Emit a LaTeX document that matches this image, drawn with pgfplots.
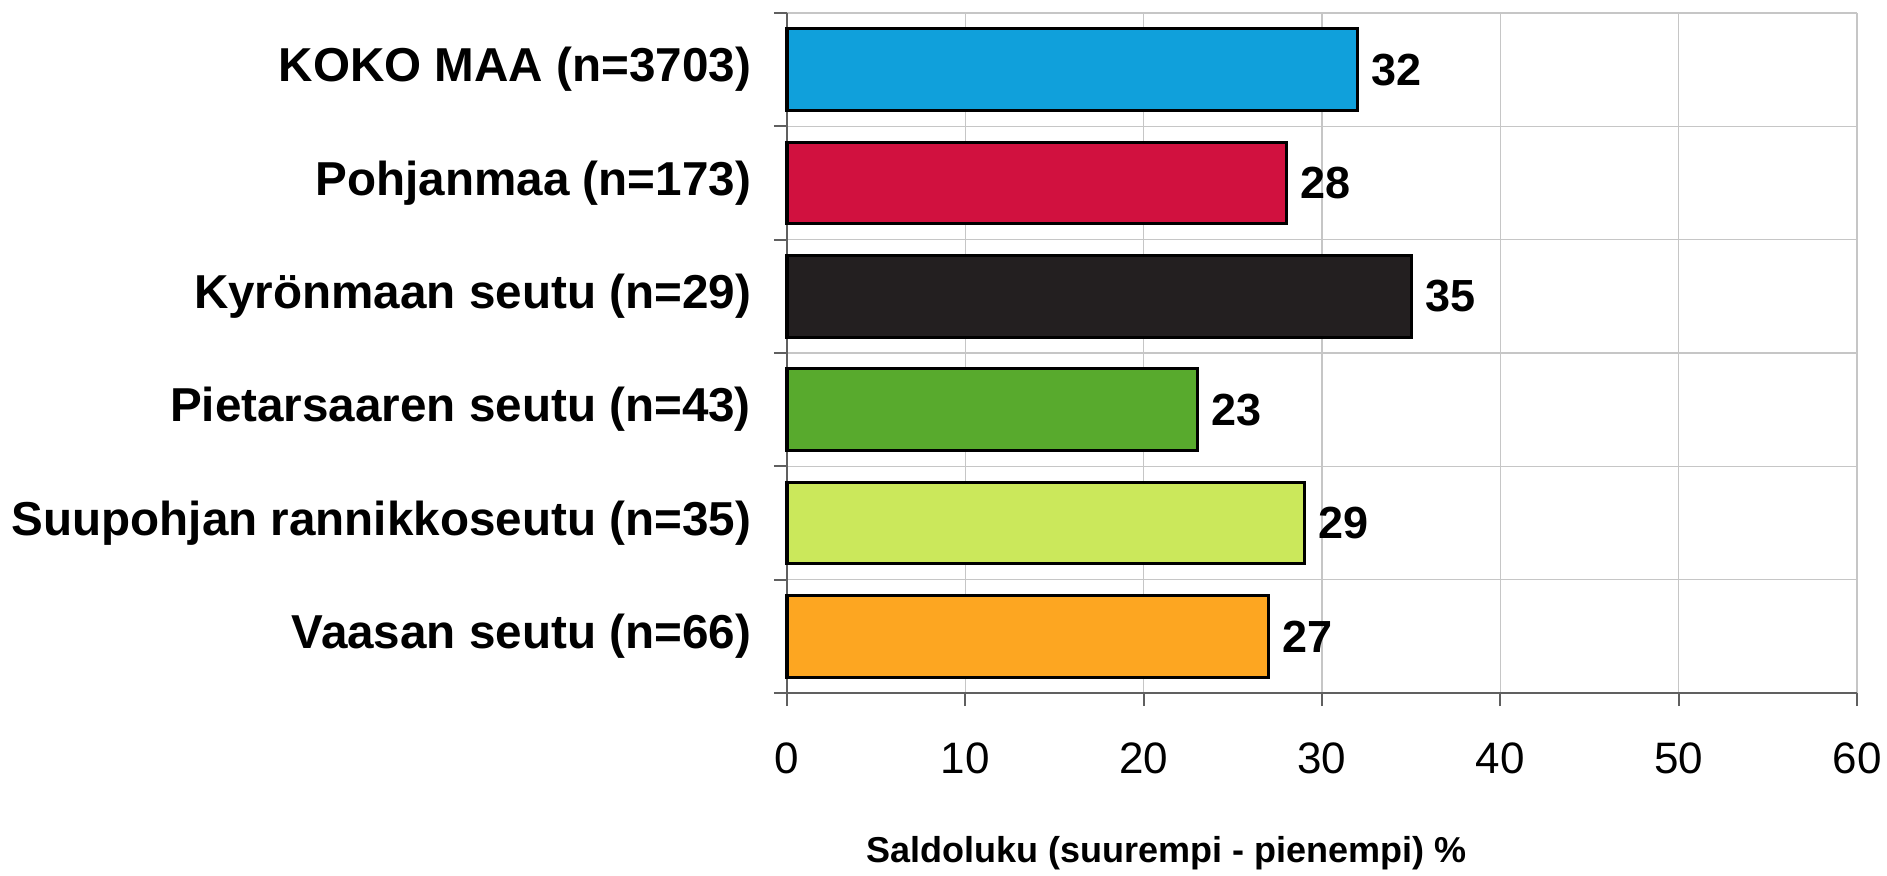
\documentclass[border=0pt]{standalone}
\usepackage{fontspec}
\setmainfont{Liberation Sans}
\usepackage{pgfplots}
\pgfplotsset{compat=1.18}
\definecolor{c1}{HTML}{10A0DB}
\definecolor{c2}{HTML}{D1113F}
\definecolor{c3}{HTML}{231F20}
\definecolor{c4}{HTML}{58AA2D}
\definecolor{c5}{HTML}{CBE85B}
\definecolor{c6}{HTML}{FDA621}
\begin{document}
\begin{tikzpicture}
\begin{axis}[
  scale only axis, width=535pt, height=340pt,
  /pgf/number format/assume math mode=true,
  xbar, bar width=0.72,
  xmin=0, xmax=60, ymin=-0.5, ymax=5.5, y dir=reverse,
  xtick={0,10,20,30,40,50,60},
  ytick={-0.5,0.5,1.5,2.5,3.5,4.5,5.5}, yticklabels={},
  extra y ticks={0,1,2,3,4,5},
  extra y tick labels={KOKO MAA (n=3703),Pohjanmaa (n=173),Kyrönmaan seutu (n=29),Pietarsaaren seutu (n=43),Suupohjan rannikkoseutu (n=35),Vaasan seutu (n=66)},
  extra y tick style={grid=none, tick style={draw=none}},
  grid=major, grid style={gray!45, line width=0.6pt},
  axis lines=left, axis line style={-, draw=gray!75!black, line width=1pt},
  tick align=outside, major tick length=6.5pt,
  tick style={draw=gray!75!black, line width=1pt},
  yticklabel style={font=\bfseries\fontsize{23.8}{28}\selectfont, xshift=-8pt},
  xticklabel style={font=\fontsize{22}{26}\selectfont, yshift=-15pt},
  xlabel={Saldoluku (suurempi - pienempi) \%},
  xlabel style={font=\bfseries\fontsize{18}{22}\selectfont, at={(axis description cs:0.355,0)}, anchor=center, yshift=-80pt},
  nodes near coords,
  nodes near coords style={font=\bfseries\fontsize{22.5}{26}\selectfont, anchor=west, black, xshift=3pt},
  mybar/.style={fill=#1, draw=black, line width=1.6pt, bar shift=0pt},
  clip=false,
]
\addplot[mybar=c1] coordinates {(32,0)};
\addplot[mybar=c2] coordinates {(28,1)};
\addplot[mybar=c3] coordinates {(35,2)};
\addplot[mybar=c4] coordinates {(23,3)};
\addplot[mybar=c5] coordinates {(29,4)};
\addplot[mybar=c6] coordinates {(27,5)};
\coordinate (bl) at (rel axis cs:0,0);
\coordinate (tr) at (rel axis cs:1,1);
\end{axis}
\pgfresetboundingbox
\path[use as bounding box] ([xshift=-393.5pt,yshift=-91.5pt]bl) rectangle ([xshift=15pt,yshift=6.5pt]tr);
\end{tikzpicture}
\end{document}
